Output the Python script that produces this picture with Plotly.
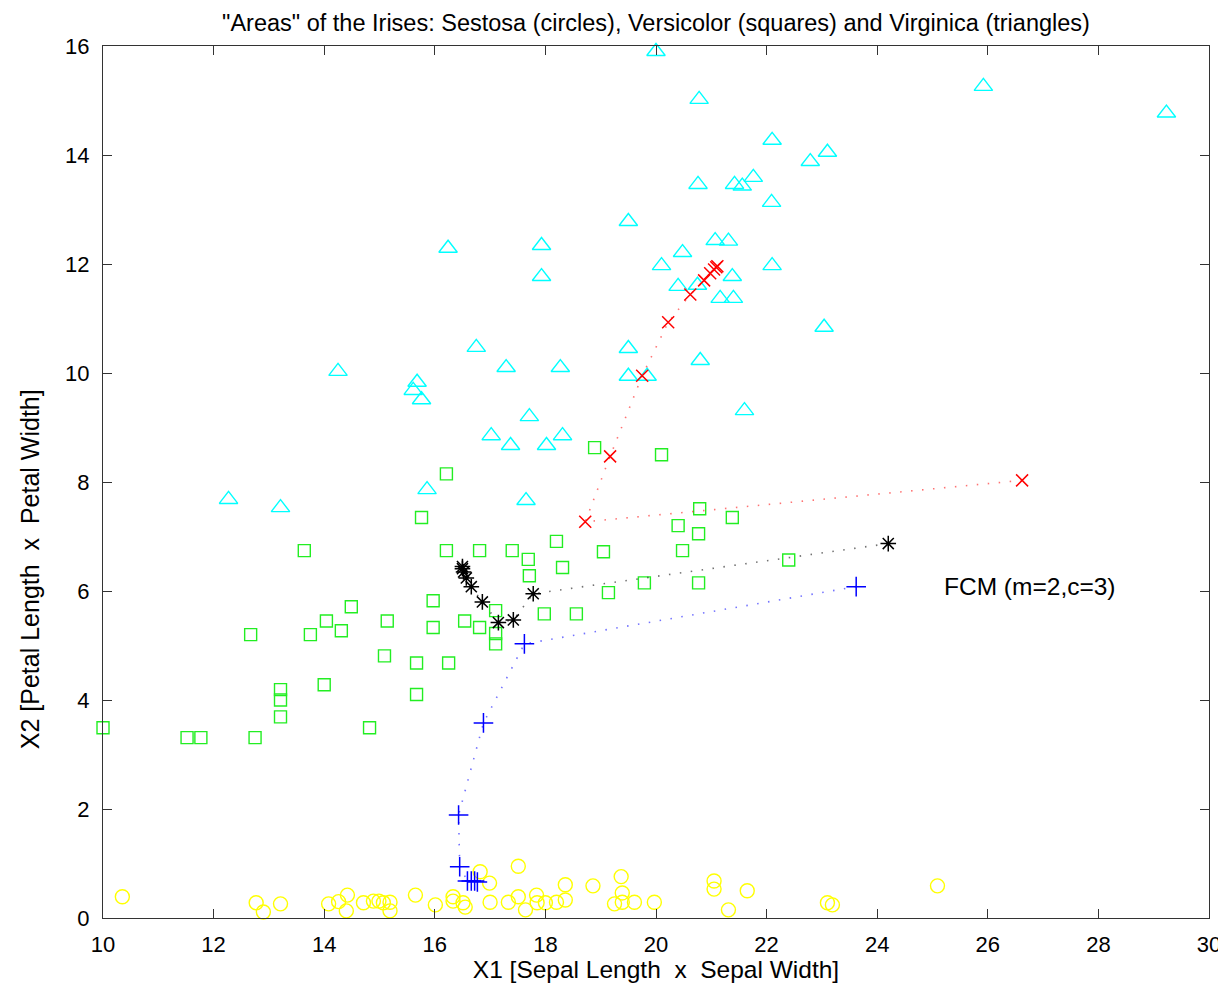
import plotly.graph_objects as go

# Virginica (triangles)
virginica_x = [20.00, 20.78, 25.92, 29.23, 22.10, 22.79, 23.10, 20.76, 21.42, 21.56,
               21.76, 22.09, 19.50, 17.93, 16.24, 21.07, 21.31, 20.48, 20.10, 22.10,
               17.93, 21.38, 20.40, 20.75, 21.16, 21.40, 23.04, 16.75, 19.50, 17.29,
               18.27, 14.25, 20.80, 15.68, 15.61, 15.76, 19.50, 19.84, 21.60, 17.71,
               17.02, 17.37, 18.02, 18.31, 17.65, 12.27, 13.21, 15.86]
virginica_y = [15.90, 15.02, 15.26, 14.77, 14.27, 13.88, 14.05, 13.46, 13.46, 13.43,
               13.59, 13.13, 12.78, 12.34, 12.29, 12.43, 12.42, 12.21, 11.97, 11.97,
               11.77, 11.77, 11.59, 11.61, 11.37, 11.37, 10.84, 10.47, 10.45, 10.10,
               10.10, 10.03, 10.23, 9.83, 9.68, 9.51, 9.94, 9.94, 9.31, 9.20,
               8.85, 8.67, 8.67, 8.85, 7.66, 7.68, 7.53, 7.86]

# Versicolor (squares)
versicolor_x = [16.21, 15.76, 13.64, 16.21, 16.81, 17.40, 17.69, 17.71, 18.20, 18.31,
                15.97, 14.49, 14.04, 14.31, 15.14, 15.97, 16.54, 16.81, 17.10, 17.10,
                17.10, 17.98, 18.56, 15.09, 15.67, 16.25, 12.67, 13.75, 14.00, 13.21,
                13.21, 13.21, 15.67, 10.00, 11.52, 11.77, 12.75, 14.82, 18.89, 20.10,
                20.79, 21.38, 20.40, 20.77, 20.48, 19.05, 22.40, 19.79, 20.77, 19.14]
versicolor_y = [8.15, 7.35, 6.74, 6.74, 6.74, 6.74, 6.58, 6.28, 6.91, 6.43,
                5.82, 5.71, 5.45, 5.27, 5.45, 5.33, 5.45, 5.33, 5.64, 5.22,
                5.03, 5.58, 5.58, 4.81, 4.68, 4.68, 5.20, 5.20, 4.28, 4.19,
                4.00, 3.69, 4.10, 3.49, 3.31, 3.31, 3.31, 3.49, 8.63, 8.50,
                7.51, 7.35, 7.20, 7.05, 6.74, 6.72, 6.57, 6.15, 6.15, 5.97]

# Setosa (circles)
setosa_x = [10.35, 12.77, 12.90, 13.21, 14.08, 14.26, 14.42, 14.40, 14.71, 14.89,
            14.99, 15.07, 15.19, 15.19, 15.65, 16.01, 16.33, 16.33, 16.51, 16.55,
            16.82, 16.99, 17.00, 17.33, 17.51, 17.51, 17.64, 17.84, 17.85, 18.00,
            18.20, 18.36, 18.36, 18.86, 19.25, 19.37, 19.39, 19.39, 19.61, 19.97,
            21.05, 21.05, 21.31, 21.65, 23.10, 23.19, 25.09]
setosa_y = [0.39, 0.28, 0.11, 0.26, 0.26, 0.30, 0.42, 0.13, 0.28, 0.31,
            0.31, 0.28, 0.29, 0.13, 0.42, 0.24, 0.39, 0.31, 0.28, 0.20,
            0.85, 0.64, 0.29, 0.29, 0.95, 0.39, 0.15, 0.42, 0.28, 0.28,
            0.29, 0.61, 0.33, 0.59, 0.26, 0.76, 0.46, 0.29, 0.29, 0.29,
            0.68, 0.53, 0.15, 0.50, 0.28, 0.24, 0.59]

# FCM cluster-centre trajectories
red_x = [26.62, 18.72, 19.17, 19.75, 20.22, 20.62, 20.87, 20.98, 21.05, 21.09, 21.11]
red_y = [8.03, 7.27, 8.47, 9.95, 10.93, 11.44, 11.70, 11.83, 11.90, 11.94, 11.96]
black_x = [24.20, 17.78, 17.42, 17.15, 16.86, 16.66, 16.57, 16.52, 16.50, 16.50]
black_y = [6.87, 5.95, 5.47, 5.42, 5.80, 6.08, 6.24, 6.35, 6.41, 6.45]
blue_x = [23.62, 17.62, 16.88, 16.43, 16.45, 16.59, 16.66, 16.72, 16.77]
blue_y = [6.08, 5.03, 3.58, 1.89, 0.94, 0.68, 0.68, 0.68, 0.66]

x_ticks = [10, 12, 14, 16, 18, 20, 22, 24, 26, 28, 30]
y_ticks = [0, 2, 4, 6, 8, 10, 12, 14, 16]

FONT = "Liberation Sans, Arial, sans-serif"
NB = "\u00a0"

fig = go.Figure()

fig.add_trace(go.Scatter(x=setosa_x, y=setosa_y, mode="markers",
                         marker=dict(symbol="circle-open", size=14, color="#ffff00",
                                     line=dict(width=1.4, color="#ffff00")),
                         cliponaxis=False))
fig.add_trace(go.Scatter(x=versicolor_x, y=versicolor_y, mode="markers",
                         marker=dict(symbol="square-open", size=12, color="#22ee22",
                                     line=dict(width=1.4, color="#22ee22")),
                         cliponaxis=False))
fig.add_trace(go.Scatter(x=virginica_x, y=virginica_y, mode="markers",
                         marker=dict(symbol="triangle-up-open", size=16, color="#00ffff",
                                     line=dict(width=1.4, color="#00ffff")),
                         cliponaxis=False))

for xs, ys, col, sym, sz in [(red_x, red_y, "#ff0000", "x-thin-open", 12),
                             (black_x, black_y, "#000000", "asterisk-open", 13),
                             (blue_x, blue_y, "#0000ff", "cross-thin-open", 14)]:
    fig.add_trace(go.Scatter(x=xs, y=ys, mode="lines",
                             line=dict(color=col, width=1.6, dash="1.5px,9.5px"),
                             opacity=0.55, cliponaxis=False))
    fig.add_trace(go.Scatter(x=xs, y=ys, mode="markers",
                             marker=dict(symbol=sym, size=sz, color=col,
                                         line=dict(width=1.5, color=col)),
                             cliponaxis=False))

fig.add_annotation(x=25.18, y=6.08, text="FCM (m=2,c=3)", showarrow=False,
                   xanchor="left", yanchor="middle",
                   font=dict(family=FONT, size=24.5, color="black"))

# y-axis label
fig.add_annotation(x=-0.066, y=0.40, xref="paper", yref="paper",
                   text=f"X2 [Petal Length{NB} x {NB}Petal Width]", showarrow=False,
                   textangle=-90, xanchor="center", yanchor="middle",
                   font=dict(family=FONT, size=25, color="black"))

axis_common = dict(showgrid=False, zeroline=False, showline=True, linecolor="#333333",
                   linewidth=1.2, mirror="ticks", ticks="inside", ticklen=9,
                   tickwidth=1, tickcolor="#333333",
                   tickfont=dict(family=FONT, size=22, color="black"))

fig.update_layout(
    width=1218, height=976,
    paper_bgcolor="white", plot_bgcolor="white",
    margin=dict(l=95, r=17, t=38, b=66, autoexpand=False),
    showlegend=False,
    title=dict(text='"Areas" of the Irises: Sestosa (circles), Versicolor (squares) and Virginica (triangles)',
               x=0.5, xref="paper", y=0.9846, yref="container", yanchor="middle",
               font=dict(family=FONT, size=23.5, color="black")),
    xaxis=dict(range=[10, 30], tickvals=x_ticks, ticklabelstandoff=6,
               title=dict(text=f"X1 [Sepal Length{NB} x {NB}Sepal Width]", standoff=3,
                          font=dict(family=FONT, size=24.5, color="black")),
               **axis_common),
    yaxis=dict(range=[0, 16], tickvals=y_ticks, ticklabelstandoff=8,
               **axis_common),
)

fig.write_html("out.html")
